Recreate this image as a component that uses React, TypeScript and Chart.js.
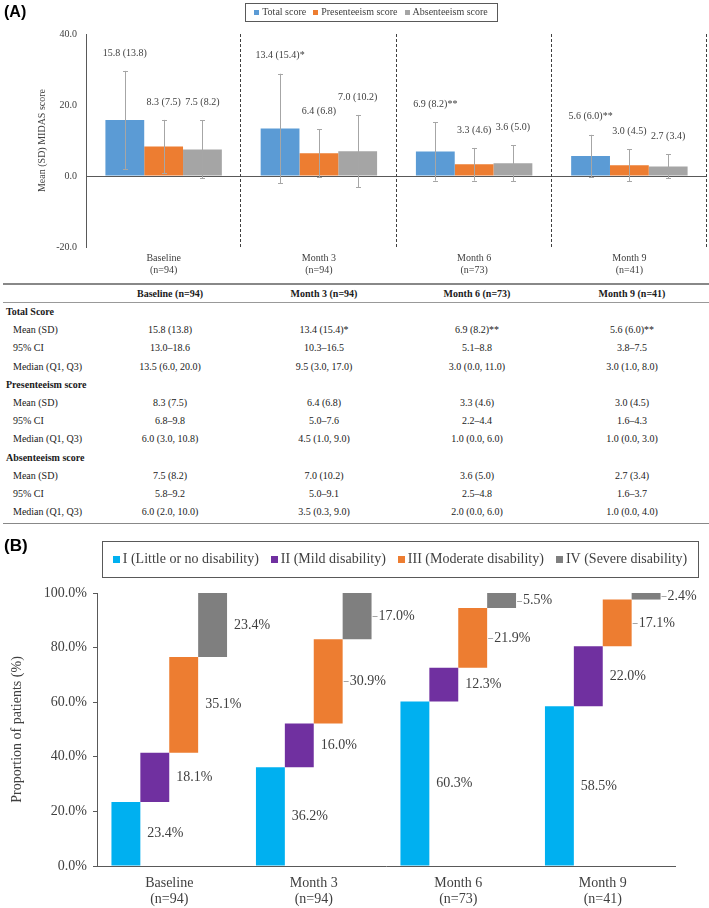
import React, { useEffect, useRef } from "react";
import { Chart, registerables } from "chart.js";
Chart.register(...registerables);

// ---------- Data: panel A ----------
const categories = [["Baseline", "(n=94)"], ["Month 3", "(n=94)"], ["Month 6", "(n=73)"], ["Month 9", "(n=41)"]];
const seriesNamesA = ["Total score", "Presenteeism score", "Absenteeism score"];
const totalMean = [15.8, 13.4, 6.9, 5.6];
const totalSD = [13.8, 15.4, 8.2, 6.0];
const totalSig = ["", "*", "**", "**"];
const presMean = [8.3, 6.4, 3.3, 3.0];
const presSD = [7.5, 6.8, 4.6, 4.5];
const absMean = [7.5, 7.0, 3.6, 2.7];
const absSD = [8.2, 10.2, 5.0, 3.4];
const noSig = ["", "", "", ""];
const yTicksA = [-20, 0, 20, 40];

// ---------- Data: table ----------
const tableHeaders = ["Baseline (n=94)", "Month 3 (n=94)", "Month 6 (n=73)", "Month 9 (n=41)"];
const totalCI = ["13.0–18.6", "10.3–16.5", "5.1–8.8", "3.8–7.5"];
const totalMedian = ["13.5 (6.0, 20.0)", "9.5 (3.0, 17.0)", "3.0 (0.0, 11.0)", "3.0 (1.0, 8.0)"];
const presCI = ["6.8–9.8", "5.0–7.6", "2.2–4.4", "1.6–4.3"];
const presMedian = ["6.0 (3.0, 10.8)", "4.5 (1.0, 9.0)", "1.0 (0.0, 6.0)", "1.0 (0.0, 3.0)"];
const absCI = ["5.8–9.2", "5.0–9.1", "2.5–4.8", "1.6–3.7"];
const absMedian = ["6.0 (2.0, 10.0)", "3.5 (0.3, 9.0)", "2.0 (0.0, 6.0)", "1.0 (0.0, 4.0)"];

// ---------- Data: panel B ----------
const gradeNames = ["I (Little or no disability)", "II (Mild disability)", "III (Moderate disability)", "IV (Severe disability)"];
const gradeI = [23.4, 36.2, 60.3, 58.5];
const gradeII = [18.1, 16.0, 12.3, 22.0];
const gradeIII = [35.1, 30.9, 21.9, 17.1];
const gradeIV = [23.4, 17.0, 5.5, 2.4];
const leaderI = [false, false, false, false];
const leaderII = [false, false, false, false];
const leaderIII = [false, true, true, true];
const leaderIV = [false, true, true, true];
const yTicksB = [0, 20, 40, 60, 80, 100];

// ---------- Styles ----------
const SERIF = '"Liberation Serif", "Times New Roman", serif';
const SANS = '"Liberation Sans", Arial, sans-serif';
const TXT = "#404040";
const AXIS = "#595959";
const colorsA = ["#5B9BD5", "#ED7D31", "#A5A5A5"];
const colorsB = ["#00B0F0", "#7030A0", "#ED7D31", "#7F7F7F"];

const meansA = [totalMean, presMean, absMean];
const sdsA = [totalSD, presSD, absSD];
const sigsA = [totalSig, noSig, noSig];
const gradesB = [gradeI, gradeII, gradeIII, gradeIV];
const leadersB = [leaderI, leaderII, leaderIII, leaderIV];

function drawLegend(ctx: CanvasRenderingContext2D, names: string[], colors: string[], box: { l: number; t: number; r: number; b: number }, font: string, marker: number, gapMarker: number, gapItem: number) {
  ctx.save();
  ctx.font = font;
  const widths = names.map((n) => ctx.measureText(n).width);
  const total = widths.reduce((a, w) => a + marker + gapMarker + w, 0) + gapItem * (names.length - 1);
  let x = (box.l + box.r) / 2 - total / 2;
  const cy = (box.t + box.b) / 2;
  ctx.strokeStyle = AXIS;
  ctx.lineWidth = 1;
  ctx.strokeRect(box.l + 0.5, box.t + 0.5, box.r - box.l, box.b - box.t);
  names.forEach((n, i) => {
    ctx.fillStyle = colors[i];
    ctx.fillRect(Math.round(x), Math.round(cy - marker / 2), marker, marker);
    x += marker + gapMarker;
    ctx.fillStyle = TXT;
    ctx.textAlign = "left";
    ctx.textBaseline = "middle";
    ctx.fillText(n, x, cy + 0.5);
    x += widths[i] + gapItem;
  });
  ctx.restore();
}

const pluginA = {
  id: "panelA",
  beforeDatasetsDraw(chart: any) {
    const { ctx, chartArea } = chart;
    const xs = chart.scales.x;
    const n = categories.length;
    const w = (xs.right - xs.left) / n;
    ctx.save();
    ctx.strokeStyle = "#404040";
    ctx.lineWidth = 1;
    ctx.setLineDash([3, 2]);
    for (let k = 1; k <= n; k++) {
      const x = Math.round(xs.left + k * w) - 0.5;
      ctx.beginPath();
      ctx.moveTo(x, chartArea.top);
      ctx.lineTo(x, chartArea.bottom);
      ctx.stroke();
    }
    ctx.restore();
  },
  afterDatasetsDraw(chart: any) {
    const { ctx } = chart;
    const ys = chart.scales.y;
    ctx.save();
    chart.data.datasets.forEach((_: any, i: number) => {
      const meta = chart.getDatasetMeta(i);
      meta.data.forEach((bar: any, j: number) => {
        const m = meansA[i][j];
        const sd = sdsA[i][j];
        const x = Math.round(bar.x) + 0.5;
        const yt = ys.getPixelForValue(m + sd);
        const yb = ys.getPixelForValue(m - sd);
        ctx.strokeStyle = "#A6A6A6";
        ctx.lineWidth = 1;
        ctx.beginPath();
        ctx.moveTo(x, yt);
        ctx.lineTo(x, yb);
        ctx.moveTo(x - 2.5, Math.round(yt) + 0.5);
        ctx.lineTo(x + 2.5, Math.round(yt) + 0.5);
        ctx.moveTo(x - 2.5, Math.round(yb) + 0.5);
        ctx.lineTo(x + 2.5, Math.round(yb) + 0.5);
        ctx.stroke();
        ctx.fillStyle = TXT;
        ctx.font = `10px ${SERIF}`;
        ctx.textAlign = "center";
        ctx.textBaseline = "middle";
        ctx.fillText(`${m.toFixed(1)} (${sd.toFixed(1)})${sigsA[i][j]}`, bar.x, yt - 18);
      });
    });
    ctx.restore();
  },
  afterDraw(chart: any) {
    drawLegend(chart.ctx, seriesNamesA, colorsA, { l: 245, t: 3, r: 497, b: 21 }, `10px ${SERIF}`, 5, 3, 7);
  },
};

const pluginB = {
  id: "panelB",
  afterDatasetsDraw(chart: any) {
    const { ctx } = chart;
    ctx.save();
    ctx.font = `14px ${SERIF}`;
    ctx.textAlign = "left";
    ctx.textBaseline = "middle";
    gradesB.forEach((g, k) => {
      const meta = chart.getDatasetMeta(k);
      meta.data.forEach((bar: any, j: number) => {
        const right = bar.x + bar.width / 2;
        const mid = (bar.y + bar.base) / 2;
        const tx = right + 7;
        if (leadersB[k][j]) {
          ctx.strokeStyle = "#A6A6A6";
          ctx.lineWidth = 1;
          ctx.beginPath();
          ctx.moveTo(right + 1, Math.round(mid) + 0.5);
          ctx.lineTo(tx - 1, Math.round(mid) + 0.5);
          ctx.stroke();
        }
        ctx.fillStyle = TXT;
        ctx.fillText(`${g[j].toFixed(1)}%`, tx, mid);
      });
    });
    ctx.restore();
  },
  afterDraw(chart: any) {
    drawLegend(chart.ctx, gradeNames, colorsB, { l: 102, t: 11, r: 698, b: 47 }, `14px ${SERIF}`, 7, 3, 12);
  },
};

type Row = { group?: string; label?: string; values?: string[] };
const tableRows: Row[] = [
  { group: "Total Score" },
  { label: "Mean (SD)", values: totalMean.map((m, j) => `${m.toFixed(1)} (${totalSD[j].toFixed(1)})${totalSig[j]}`) },
  { label: "95% CI", values: totalCI },
  { label: "Median (Q1, Q3)", values: totalMedian },
  { group: "Presenteeism score" },
  { label: "Mean (SD)", values: presMean.map((m, j) => `${m.toFixed(1)} (${presSD[j].toFixed(1)})`) },
  { label: "95% CI", values: presCI },
  { label: "Median (Q1, Q3)", values: presMedian },
  { group: "Absenteeism score" },
  { label: "Mean (SD)", values: absMean.map((m, j) => `${m.toFixed(1)} (${absSD[j].toFixed(1)})`) },
  { label: "95% CI", values: absCI },
  { label: "Median (Q1, Q3)", values: absMedian },
];
const colCenters = [170, 324, 477, 632];

export default function App() {
  const refA = useRef<HTMLCanvasElement>(null);
  const refB = useRef<HTMLCanvasElement>(null);

  useEffect(() => {
    const a = new Chart(refA.current as HTMLCanvasElement, {
      type: "bar",
      data: {
        labels: categories as any,
        datasets: meansA.map((m, i) => ({
          label: seriesNamesA[i],
          data: m,
          backgroundColor: colorsA[i],
          borderWidth: 0,
          categoryPercentage: 0.75,
          barPercentage: 1.0,
        })),
      },
      options: {
        responsive: false,
        animation: false,
        layout: { padding: { left: 0, right: 2, top: 34, bottom: 0 } },
        plugins: { legend: { display: false }, tooltip: { enabled: false } },
        scales: {
          x: {
            grid: { display: false, drawTicks: false },
            border: { display: false },
            ticks: { font: { family: SERIF, size: 10, lineHeight: 1.2 }, color: TXT, padding: 5, maxRotation: 0, autoSkip: false },
            afterFit: (s: any) => { s.height = 35; },
          },
          y: {
            min: -20,
            max: 40,
            afterBuildTicks: (s: any) => { s.ticks = yTicksA.map((v) => ({ value: v })); },
            ticks: { callback: (v: any) => Number(v).toFixed(1), font: { family: SERIF, size: 10 }, color: TXT, padding: 9 },
            grid: {
              drawTicks: false,
              color: (c: any) => (c.tick && c.tick.value === 0 ? AXIS : "rgba(0,0,0,0)"),
              lineWidth: 1,
            },
            border: { color: AXIS, width: 1 },
            title: { display: true, text: "Mean (SD) MIDAS score", font: { family: SERIF, size: 10 }, color: TXT, padding: { top: 36, bottom: 0 } },
            afterFit: (s: any) => { s.width = 86; },
          },
        },
      } as any,
      plugins: [pluginA],
    });

    const startsB = gradesB.map((g, k) => g.map((_, j) => gradesB.slice(0, k).reduce((s, gg) => s + gg[j], 0)));
    const b = new Chart(refB.current as HTMLCanvasElement, {
      type: "bar",
      data: {
        labels: categories as any,
        datasets: gradesB.map((g, k) => ({
          label: gradeNames[k],
          data: g.map((v, j) => [startsB[k][j], startsB[k][j] + v]),
          backgroundColor: colorsB[k],
          borderWidth: 0,
          categoryPercentage: 0.8,
          barPercentage: 1.0,
        })) as any,
      },
      options: {
        responsive: false,
        animation: false,
        layout: { padding: { left: 0, right: 34, top: 63, bottom: 0 } },
        plugins: { legend: { display: false }, tooltip: { enabled: false } },
        scales: {
          x: {
            grid: { display: false, drawTicks: false },
            border: { color: AXIS, width: 1 },
            ticks: { font: { family: SERIF, size: 14, lineHeight: 1.15 }, color: TXT, padding: 9, maxRotation: 0, autoSkip: false },
            afterFit: (s: any) => { s.height = 42; },
          },
          y: {
            min: 0,
            max: 100,
            afterBuildTicks: (s: any) => { s.ticks = yTicksB.map((v) => ({ value: v })); },
            ticks: { callback: (v: any) => `${Number(v).toFixed(1)}%`, font: { family: SERIF, size: 14 }, color: TXT, padding: 6 },
            grid: { drawOnChartArea: false, drawTicks: true, tickLength: 4, color: AXIS },
            border: { color: AXIS, width: 1 },
            title: { display: true, text: "Proportion of patients (%)", font: { family: SERIF, size: 14 }, color: TXT, padding: { top: 8.6, bottom: 0 } },
            afterFit: (s: any) => { s.width = 97; },
          },
        },
      } as any,
      plugins: [pluginB],
    });

    return () => {
      a.destroy();
      b.destroy();
    };
  }, []);

  const rowTop0 = 312;
  const rowStep = 18.2;
  const cell = (text: string, cx: number, cy: number, bold = false, key?: string) => (
    <div
      key={key}
      style={{ position: "absolute", left: cx - 90, width: 180, top: cy - 6, height: 12, lineHeight: "12px", textAlign: "center", fontWeight: bold ? "bold" : "normal", whiteSpace: "nowrap" }}
    >
      {text}
    </div>
  );

  return (
    <div style={{ position: "absolute", left: 0, top: 0, width: 709, height: 908, background: "#fff", fontFamily: SERIF, fontSize: 10, color: "#1a1a1a", overflow: "hidden" }}>
      <canvas ref={refA} width={709} height={282} style={{ position: "absolute", left: 0, top: 0, width: 709, height: 282 }} />
      <div style={{ position: "absolute", left: 4, top: 3, font: `bold 16px ${SANS}`, color: "#000" }}>(A)</div>

      {/* Table */}
      <div style={{ position: "absolute", left: 3, right: 0, top: 283, height: 2, background: "#888" }} />
      {tableHeaders.map((h, j) => cell(h, colCenters[j], 294, true, "h" + j))}
      <div style={{ position: "absolute", left: 3, right: 0, top: 302, height: 1, background: "#999" }} />
      {tableRows.map((r, i) => {
        const cy = rowTop0 + i * rowStep;
        if (r.group) {
          return (
            <div key={"g" + i} style={{ position: "absolute", left: 6, top: cy - 6, lineHeight: "12px", fontWeight: "bold", whiteSpace: "nowrap" }}>
              {r.group}
            </div>
          );
        }
        return (
          <React.Fragment key={"r" + i}>
            <div style={{ position: "absolute", left: 13, top: cy - 6, lineHeight: "12px", whiteSpace: "nowrap" }}>{r.label}</div>
            {(r.values || []).map((v, j) => cell(v, colCenters[j], cy, false, "v" + i + "_" + j))}
          </React.Fragment>
        );
      })}
      <div style={{ position: "absolute", left: 3, right: 0, top: 523, height: 1, background: "#888" }} />

      <canvas ref={refB} width={709} height={378} style={{ position: "absolute", left: 0, top: 530, width: 709, height: 378 }} />
      <div style={{ position: "absolute", left: 4, top: 536, font: `bold 17px ${SANS}`, color: "#000" }}>(B)</div>
    </div>
  );
}
